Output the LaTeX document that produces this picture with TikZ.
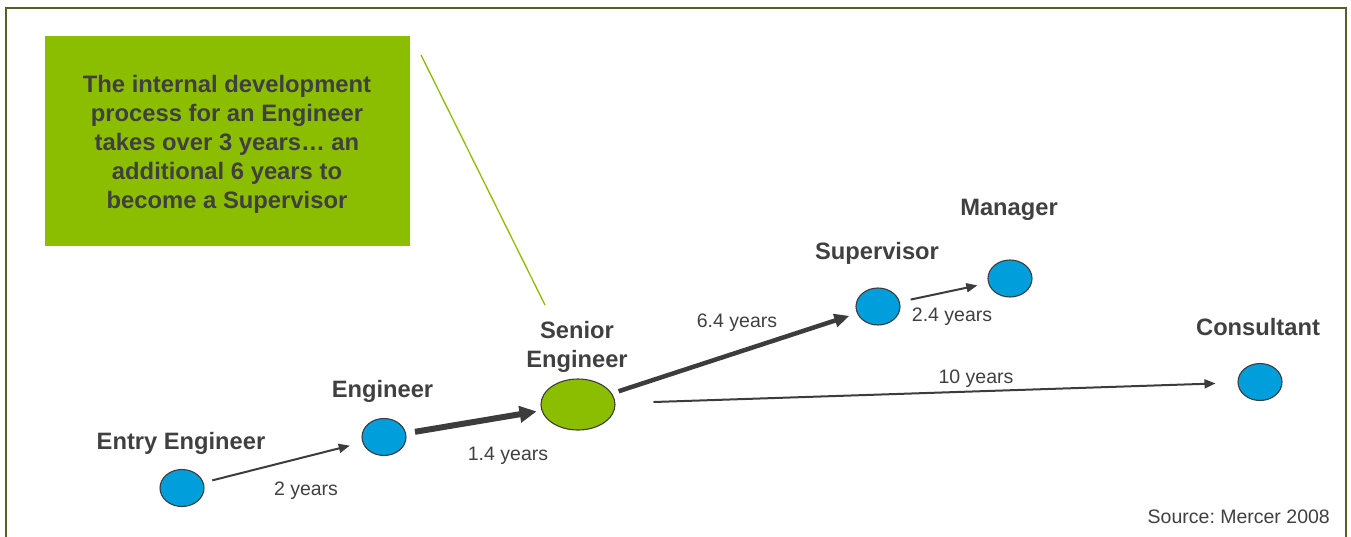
\documentclass[tikz,border=0pt]{standalone}
\usepackage{fontspec}
\setmainfont{Liberation Sans}
\usetikzlibrary{arrows.meta,shapes.geometric}
\definecolor{txt}{RGB}{64,64,64}
\definecolor{boxgreen}{RGB}{140,190,0}
\definecolor{dotblue}{RGB}{0,158,219}
\definecolor{framecol}{RGB}{85,95,40}
\definecolor{arr}{RGB}{60,60,60}
\frenchspacing
\begin{document}
\begin{tikzpicture}[x=1pt,y=-1pt,
  dot/.style={ellipse, draw=arr, line width=1.1pt, fill=dotblue, minimum width=44pt, minimum height=37pt, inner sep=0pt},
  role/.style={font=\fontsize{23.7}{29}\selectfont\bfseries, text=txt, align=center, inner sep=0pt, anchor=base},
  yrs/.style={font=\fontsize{19.5}{23}\selectfont, text=txt, inner sep=0pt, anchor=base},
  link/.style={draw=arr, line width=2pt, -{Triangle[length=11pt,width=9pt]}},
  thicklink/.style={draw=arr, line width=6pt, -{Triangle[length=17pt,width=16pt]}},
  medlink/.style={draw=arr, line width=4.5pt, -{Triangle[length=15pt,width=13pt]}}
]
\useasboundingbox (0,0) rectangle (1351,536);
% frame
\draw[framecol, line width=2pt] (6,545) -- (6,8) -- (1346,8) -- (1346,545);
% callout box
\node[fill=boxgreen, minimum width=365pt, minimum height=210pt, inner sep=0pt] (box) at (227.5,141) {};
\node[font=\fontsize{23.8}{29}\selectfont\bfseries, text=txt, align=center, inner sep=0pt] (boxtext) at (227,144)
  {The internal development\\process for an Engineer\\takes over 3 years\ldots\ an\\additional 6 years to\\become a Supervisor};
\coordinate (ctop) at (421,55);
\coordinate (cbot) at (545,305);
\draw[boxgreen, line width=1.3pt] (ctop) -- (cbot);
% ellipses
\node[dot] (entry) at (182,488) {};
\node[dot] (eng) at (384,437) {};
\node[dot, fill=boxgreen, minimum width=74pt, minimum height=51pt] (senior) at (578,404.5) {};
\node[dot] (sup) at (878,306.5) {};
\node[dot] (mgr) at (1010,278.5) {};
\node[dot] (cons) at (1260,382) {};
% role labels
\node[role] (lentry) at (181,449) {Entry Engineer};
\node[role] (leng) at (382.5,397) {Engineer};
\node[role] (lsen1) at (577,338) {Senior};
\node[role] (lsen2) at (577,367) {Engineer};
\node[role] (lsup) at (877,259) {Supervisor};
\node[role] (lmgr) at (1009,215) {Manager};
\node[role] (lcons) at (1258,335) {Consultant};
% arrows
\draw[link, shorten <=9pt, shorten >=13pt] (entry) -- (eng);
\draw[thicklink, shorten <=9pt, shorten >=5pt] (eng) -- (senior);
\draw[medlink, shorten <=7pt, shorten >=8pt] (senior) -- (sup);
\draw[link, shorten <=11pt, shorten >=11pt] (sup) -- (mgr);
\draw[link, shorten <=38pt, shorten >=22pt] (senior) -- (cons);
% year labels
\node[yrs] (y2) at (306,495) {2 years};
\node[yrs] (y14) at (508,460) {1.4 years};
\node[yrs] (y64) at (737,327) {6.4 years};
\node[yrs] (y24) at (952,321) {2.4 years};
\node[yrs] (y10) at (976,383) {10 years};
\node[yrs, anchor=base east] (src) at (1330,523) {Source: Mercer 2008};
\end{tikzpicture}
\end{document}
